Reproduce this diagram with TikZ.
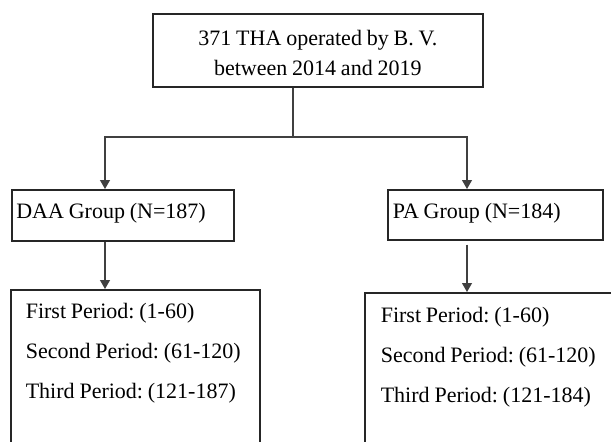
\documentclass[tikz,border=0pt]{standalone}
\usepackage{fontspec}
\setmainfont{Liberation Serif}
\usetikzlibrary{arrows.meta}

\newcommand{\tightspace}{\spaceskip=0.22em\relax\xspaceskip=0.22em\relax}

\begin{document}
\begin{tikzpicture}[x=1pt, y=-1pt,
    box/.style={draw=black!85, line width=1.6pt, anchor=north west, inner ysep=0pt,
      align=left, font=\fontsize{22}{40}\selectfont,
      execute at begin node=\tightspace},
    link/.style={draw=black!75, line width=1.1pt},
    arrow/.style={link, -{Triangle[length=9pt, width=10pt]}}]

    \path[use as bounding box, clip] (0,0) rectangle (611,442);
    \fill[white] (0,0) rectangle (611,442);

    \node[box, align=center, inner xsep=0pt, minimum width=330pt,
      text height=62pt, text depth=11pt, font=\fontsize{22}{30}\selectfont]
      (total) at (152,13) {371 THA operated by B. V.\\between 2014 and 2019};

    \node[box, inner xsep=4.5pt, text width=213pt, text height=29pt, text depth=22pt]
      (daa) at (11,189) {DAA Group (N=187)};

    \node[box, inner xsep=5pt, text width=205pt, text height=29pt, text depth=21pt]
      (pa) at (387,189) {PA Group (N=184)};

    \node[box, inner xsep=15pt, text width=219pt, text height=29pt, text depth=200pt]
      (daaper) at (10,289) {First Period: (1-60)\\Second Period: (61-120)\\Third Period: (121-187)};

    \node[box, inner xsep=16pt, text width=240pt, text height=30pt, text depth=200pt]
      (paper) at (364,292) {First Period: (1-60)\\Second Period: (61-120)\\Third Period: (121-184)};

    \coordinate (split) at (293,137);
    \coordinate (ldrop) at (105,137);
    \coordinate (rdrop) at (467,137);

    \draw[link] (split |- total.south) -- (split);
    \draw[arrow] (split) -- (ldrop) -- (ldrop |- daa.north);
    \draw[arrow] (split) -- (rdrop) -- (rdrop |- pa.north);
    \draw[arrow] (ldrop |- daa.south) -- (ldrop |- daaper.north);
    \draw[arrow, shorten <=4pt] (rdrop |- pa.south) -- (rdrop |- paper.north);

  \end{tikzpicture}
\end{document}
